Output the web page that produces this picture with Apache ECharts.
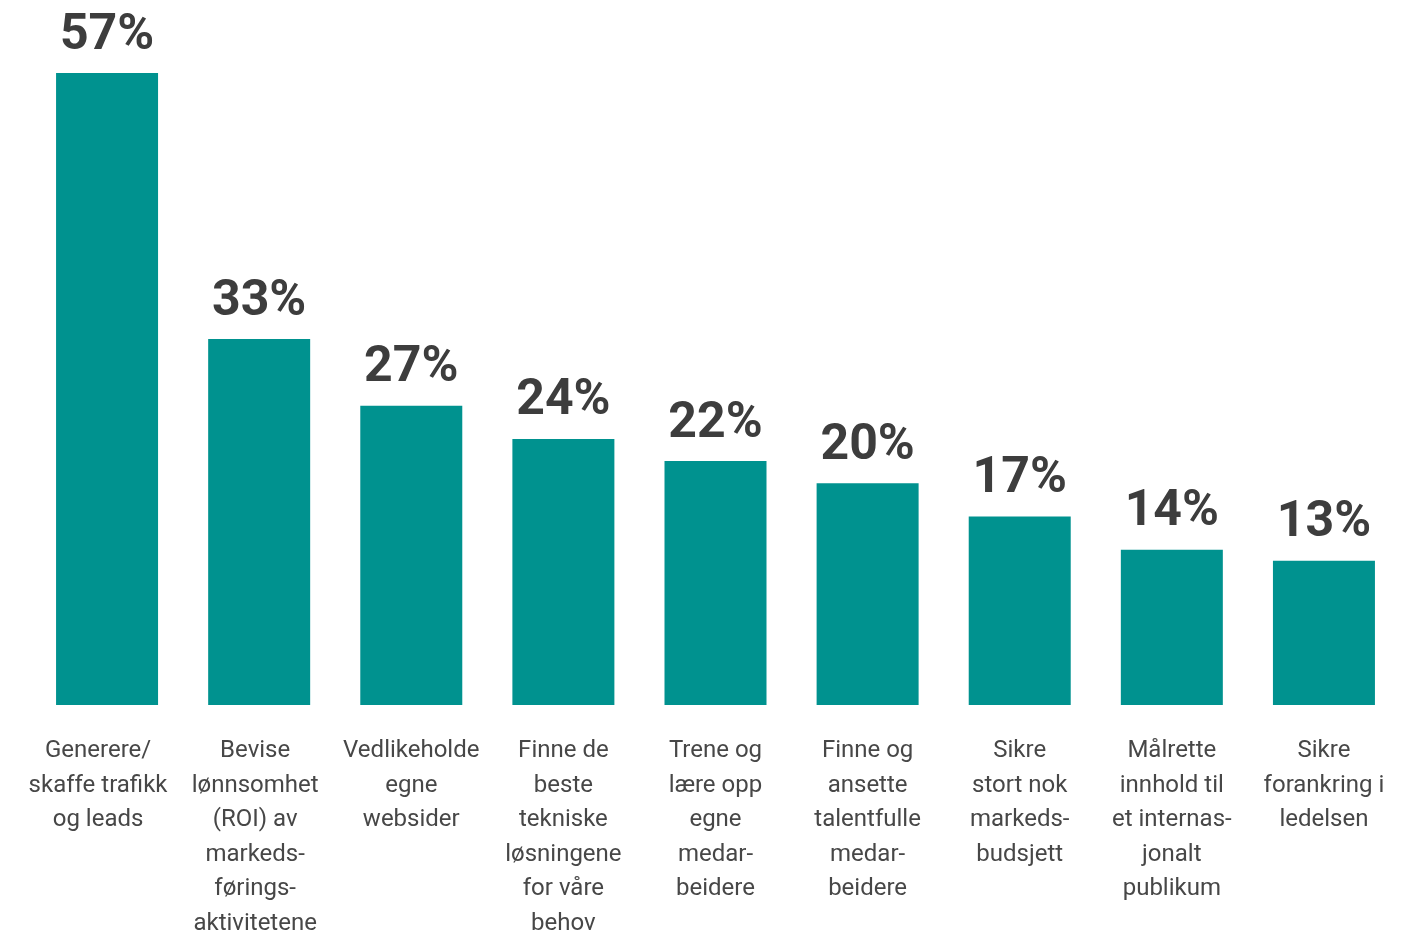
<!DOCTYPE html>
<html>
<head>
<meta charset="utf-8">
<script src="https://cdn.jsdelivr.net/npm/echarts@6/dist/echarts.min.js"></script>
<style>
  html, body { margin: 0; padding: 0; background: #ffffff; }
  #chart { width: 1413px; height: 936px; }
</style>
</head>
<body>
<div id="chart"></div>
<script>
// Challenges named by respondents, share in percent
const categories = [
  'Generere/\nskaffe trafikk\nog leads',
  'Bevise\nlønnsomhet\n(ROI) av\nmarkeds-\nførings-\naktivitetene',
  'Vedlikeholde\negne\nwebsider',
  'Finne de\nbeste\ntekniske\nløsningene\nfor våre\nbehov',
  'Trene og\nlære opp\negne\nmedar-\nbeidere',
  'Finne og\nansette\ntalentfulle\nmedar-\nbeidere',
  'Sikre\nstort nok\nmarkeds-\nbudsjett',
  'Målrette\ninnhold til\net internas-\njonalt\npublikum',
  'Sikre\nforankring i\nledelsen'
];
const values = [57, 33, 27, 24, 22, 20, 17, 14, 13];

// the first two captions sit a little left of their bars
const captionShift = [18, 8, 0, 0, 0, 0, 0, 0, 0];

const chart = echarts.init(document.getElementById('chart'), null, { renderer: 'canvas' });

chart.setOption({
  backgroundColor: '#ffffff',
  animation: false,
  grid: { left: 31, right: 13, top: 73, bottom: 231, outerBoundsMode: 'none', containLabel: false },
  xAxis: {
    type: 'category',
    data: categories.map((c, i) => ({
      value: c,
      textStyle: { padding: [0, captionShift[i], 0, 0] }
    })),
    axisLine: { show: false },
    axisTick: { show: false },
    axisLabel: {
      interval: 0,
      margin: 29,
      color: '#474747',
      fontFamily: 'Roboto',
      fontSize: 24,
      lineHeight: 34.5,
      align: 'center'
    }
  },
  yAxis: {
    type: 'value',
    min: 0,
    max: 57,
    show: false,
    splitLine: { show: false }
  },
  series: [{
    type: 'bar',
    data: values,
    barWidth: 102,
    itemStyle: { color: '#00928F' },
    label: {
      show: true,
      position: 'top',
      distance: 12,
      formatter: '{c}%',
      color: '#3d3d3d',
      fontFamily: 'Roboto',
      fontWeight: 'bold',
      fontSize: 50
    }
  }]
});
</script>
</body>
</html>
